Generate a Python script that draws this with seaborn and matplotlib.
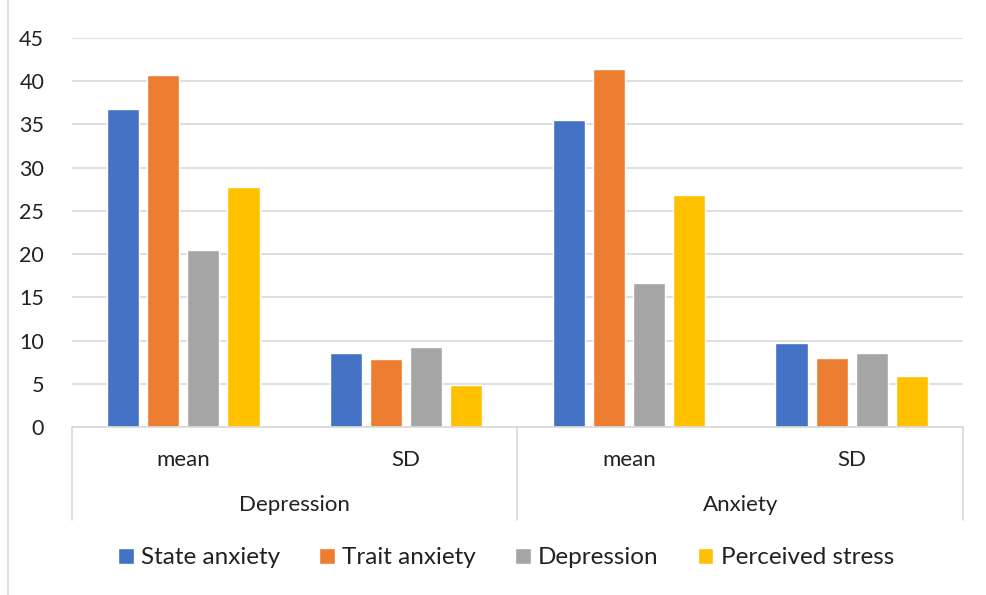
import matplotlib
matplotlib.use("Agg")
import matplotlib.pyplot as plt
import seaborn as sns
import pandas as pd
from matplotlib.lines import Line2D

groups = ["Depression", "Depression", "Anxiety", "Anxiety"]
stats = ["mean", "SD", "mean", "SD"]
measures = ["State anxiety", "Trait anxiety", "Depression", "Perceived stress"]
state_anxiety = [36.75, 8.55, 35.5, 9.75]
trait_anxiety = [40.7, 7.9, 41.45, 7.95]
depression = [20.5, 9.25, 16.65, 8.55]
perceived_stress = [27.8, 4.85, 26.85, 5.9]
colors = ["#4472C4", "#ED7D31", "#A5A5A5", "#FFC000"]

series = [state_anxiety, trait_anxiety, depression, perceived_stress]
rows = []
for m, vals in zip(measures, series):
    for i, v in enumerate(vals):
        rows.append({"cat": f"{groups[i]}|{stats[i]}", "measure": m, "value": v})
df = pd.DataFrame(rows)
order = [f"{g}|{s}" for g, s in zip(groups, stats)]

sns.set_theme(style="white")
plt.rcParams["font.family"] = ["Lato", "DejaVu Sans"]

W, H = 987, 595
fig = plt.figure(figsize=(W / 100, H / 100), dpi=100)
x0, x1, ytop, ybot = 72, 963, 38, 427
ax = fig.add_axes([x0 / W, 1 - ybot / H, (x1 - x0) / W, (ybot - ytop) / H])

sns.barplot(data=df, x="cat", y="value", hue="measure", order=order,
            hue_order=measures, palette=colors, width=0.72, gap=0.2,
            saturation=1, ax=ax, errorbar=None)

ax.set_ylim(0, 45)
ax.set_xlim(-0.5, 3.5)
ax.set_yticks(range(0, 46, 5))
ax.tick_params(axis="y", labelsize=15.5, colors="#222222", length=0, pad=20)
ax.yaxis.grid(True, color="#d9d9d9", linewidth=1.2)
ax.set_axisbelow(True)
for s in ax.spines.values():
    s.set_visible(False)
ax.set_xticks([])
ax.set_xlabel("")
ax.set_ylabel("")

axh = ybot - ytop
lc = "#d9d9d9"
ax.plot([0, 1], [0, 0], transform=ax.transAxes, color=lc, lw=1.2, clip_on=False)
for xf in [0, 0.5, 1]:
    ax.plot([xf, xf], [0, -(520 - ybot) / axh], transform=ax.transAxes,
            color=lc, lw=1.2, clip_on=False)
for i, s in enumerate(stats):
    ax.text((i + 0.5) / 4, -(460 - ybot) / axh, s, transform=ax.transAxes,
            ha="center", va="center", fontsize=16, color="#222222")
for j, g in enumerate(["Depression", "Anxiety"]):
    ax.text(0.25 + 0.5 * j, -(505 - ybot) / axh, g, transform=ax.transAxes,
            ha="center", va="center", fontsize=16, color="#222222")

handles, labels = ax.get_legend_handles_labels()
ax.get_legend().remove()
fig.legend(handles, labels, loc="center", bbox_to_anchor=(506 / W, 1 - 558 / H),
           ncol=4, frameon=False, fontsize=17.5, handlelength=0.65,
           handleheight=0.65, handletextpad=0.3, columnspacing=1.6,
           labelcolor="#222222")

fig.add_artist(Line2D([8 / W, 8 / W], [0, 1], color=lc, lw=1.2,
                      transform=fig.transFigure))

fig.savefig("out.png", dpi=100)
